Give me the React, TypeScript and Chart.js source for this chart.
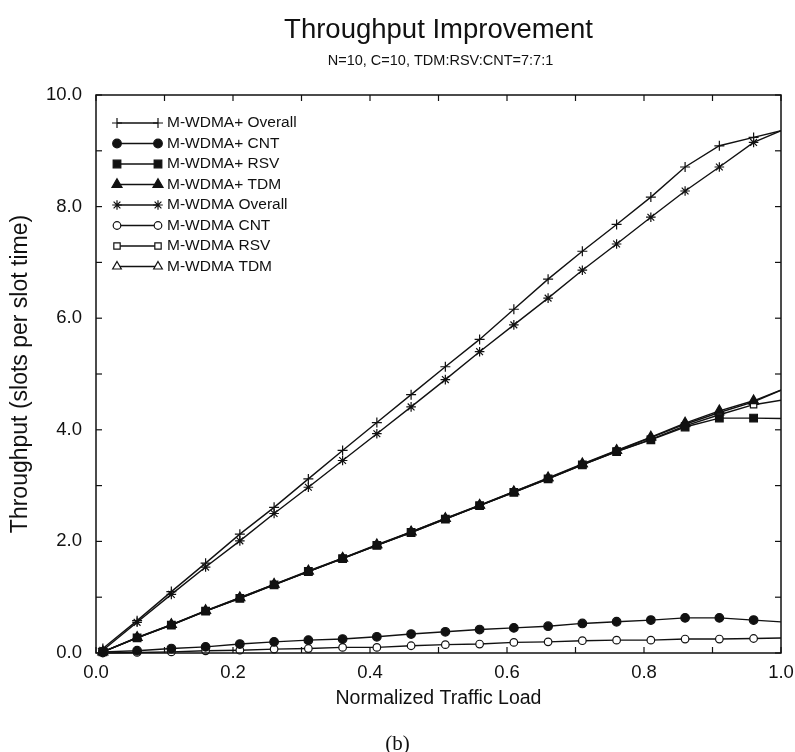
import React, { useEffect, useRef } from 'react';
import { Chart, registerables } from 'chart.js';
import { drawPoint } from 'chart.js/helpers';

Chart.register(...registerables);

const titleText = 'Throughput Improvement';
const subtitleText = 'N=10, C=10, TDM:RSV:CNT=7:7:1';
const captionText = '(b)';
const xAxisTitle = 'Normalized Traffic Load';
const yAxisTitle = 'Throughput (slots per slot time)';

const loads = [0.01, 0.06, 0.11, 0.16, 0.21, 0.26, 0.31, 0.36, 0.41, 0.46, 0.51, 0.56, 0.61, 0.66, 0.71, 0.76, 0.81, 0.86, 0.91, 0.96, 1.01];

const plusOverall = [0.08, 0.58, 1.10, 1.61, 2.13, 2.61, 3.12, 3.63, 4.13, 4.63, 5.13, 5.62, 6.16, 6.70, 7.20, 7.68, 8.17, 8.71, 9.09, 9.24, 9.39];
const plusCnt = [0.02, 0.04, 0.08, 0.11, 0.16, 0.20, 0.23, 0.25, 0.29, 0.34, 0.38, 0.42, 0.45, 0.48, 0.53, 0.56, 0.59, 0.63, 0.63, 0.59, 0.55];
const plusRsv = [0.02, 0.27, 0.50, 0.75, 0.98, 1.22, 1.46, 1.69, 1.93, 2.16, 2.40, 2.64, 2.88, 3.12, 3.37, 3.61, 3.82, 4.05, 4.21, 4.21, 4.20];
const plusTdm = [0.02, 0.28, 0.51, 0.76, 0.99, 1.23, 1.47, 1.70, 1.94, 2.17, 2.41, 2.65, 2.89, 3.14, 3.39, 3.63, 3.87, 4.12, 4.34, 4.52, 4.76];
const baseOverall = [0.05, 0.55, 1.05, 1.54, 2.01, 2.50, 2.97, 3.45, 3.93, 4.41, 4.90, 5.40, 5.88, 6.36, 6.86, 7.33, 7.81, 8.28, 8.71, 9.15, 9.41];
const baseCnt = [0.0, 0.01, 0.02, 0.04, 0.05, 0.07, 0.08, 0.10, 0.10, 0.13, 0.15, 0.16, 0.19, 0.20, 0.22, 0.23, 0.23, 0.25, 0.25, 0.26, 0.27];
const baseRsv = [0.02, 0.27, 0.50, 0.75, 0.98, 1.22, 1.46, 1.69, 1.93, 2.16, 2.40, 2.64, 2.88, 3.12, 3.37, 3.61, 3.83, 4.07, 4.27, 4.45, 4.55];
const baseTdm = [0.02, 0.27, 0.51, 0.75, 0.99, 1.23, 1.46, 1.70, 1.93, 2.17, 2.41, 2.64, 2.89, 3.13, 3.38, 3.62, 3.86, 4.10, 4.31, 4.50, 4.76];

const seriesLabels = ['M-WDMA+ Overall', 'M-WDMA+ CNT', 'M-WDMA+ RSV', 'M-WDMA+ TDM', 'M-WDMA Overall', 'M-WDMA CNT', 'M-WDMA RSV', 'M-WDMA TDM'];

const xMarkValues = [0, 0.1, 0.2, 0.3, 0.4, 0.5, 0.6, 0.7, 0.8, 0.9, 1.0];
const yMarkValues = [0, 1, 2, 3, 4, 5, 6, 7, 8, 9, 10];

const INK = '#111';
const SANS = '"Liberation Sans", Arial, Helvetica, sans-serif';
const SERIF = '"Liberation Serif", "Times New Roman", serif';

function makeSet(label: string, values: number[], pointStyle: string, filled: boolean, radius: number) {
  return {
    label,
    data: loads.map((x, i) => ({ x, y: values[i] })),
    borderColor: INK,
    borderWidth: 1.4,
    pointStyle,
    pointRadius: radius,
    pointBorderWidth: 1.2,
    pointBackgroundColor: filled ? INK : '#ffffff',
    pointBorderColor: INK,
    tension: 0,
    fill: false,
    clip: { left: 8, top: 8, right: 0, bottom: 8 },
  };
}

const decorPlugin = {
  id: 'decor',
  beforeDraw(chart: any) {
    const ctx = chart.ctx;
    ctx.save();
    ctx.fillStyle = '#ffffff';
    ctx.fillRect(0, 0, chart.width, chart.height);
    ctx.restore();
  },
  afterDraw(chart: any) {
    const { ctx, chartArea: a } = chart;
    const xs = chart.scales.x;
    const ys = chart.scales.y;
    const line = (x0: number, y0: number, x1: number, y1: number) => {
      ctx.beginPath();
      ctx.moveTo(x0, y0);
      ctx.lineTo(x1, y1);
      ctx.stroke();
    };
    ctx.save();
    ctx.strokeStyle = INK;
    ctx.lineWidth = 1.5;
    ctx.strokeRect(a.left, a.top, a.right - a.left, a.bottom - a.top);
    ctx.lineWidth = 1.2;
    const tl = 6;
    xMarkValues.forEach((v) => {
      const px = xs.getPixelForValue(v);
      line(px, a.bottom, px, a.bottom - tl);
      line(px, a.top, px, a.top + tl);
    });
    yMarkValues.forEach((v) => {
      const py = ys.getPixelForValue(v);
      line(a.left, py, a.left + tl, py);
      line(a.right, py, a.right - tl, py);
    });

    const cx = (a.left + a.right) / 2;
    ctx.fillStyle = INK;
    ctx.textAlign = 'center';
    ctx.textBaseline = 'alphabetic';
    ctx.font = `27.5px ${SANS}`;
    ctx.fillText(titleText, cx, 38);
    ctx.font = `14.5px ${SANS}`;
    ctx.fillText(subtitleText, cx + 2, 65);
    ctx.font = `21px ${SERIF}`;
    ctx.textBaseline = 'middle';
    ctx.fillText(captionText, chart.width / 2, 744);

    chart.data.datasets.forEach((ds: any, i: number) => {
      const yy = a.top + 28 + i * 20.5;
      const x0 = a.left + 21;
      const x1 = a.left + 62;
      ctx.strokeStyle = INK;
      ctx.lineWidth = 1.3;
      line(x0, yy, x1, yy);
      const opts = { pointStyle: ds.pointStyle, radius: ds.pointRadius, borderWidth: ds.pointBorderWidth, rotation: 0 };
      ctx.fillStyle = ds.pointBackgroundColor;
      ctx.strokeStyle = ds.pointBorderColor;
      ctx.lineWidth = ds.pointBorderWidth;
      drawPoint(ctx, opts as any, x0, yy);
      drawPoint(ctx, opts as any, x1, yy);
      ctx.fillStyle = INK;
      ctx.font = `15.5px ${SANS}`;
      ctx.textAlign = 'left';
      ctx.textBaseline = 'middle';
      ctx.fillText(ds.label, a.left + 71, yy);
    });
    ctx.restore();
  },
};

export default function App() {
  const ref = useRef<HTMLCanvasElement | null>(null);
  useEffect(() => {
    if (!ref.current) return;
    const datasets = [
      makeSet(seriesLabels[0], plusOverall, 'cross', false, 5),
      makeSet(seriesLabels[1], plusCnt, 'circle', true, 4.3),
      makeSet(seriesLabels[2], plusRsv, 'rect', true, 5.4),
      makeSet(seriesLabels[3], plusTdm, 'triangle', true, 5.8),
      makeSet(seriesLabels[4], baseOverall, 'star', false, 4.8),
      makeSet(seriesLabels[5], baseCnt, 'circle', false, 3.8),
      makeSet(seriesLabels[6], baseRsv, 'rect', false, 4.5),
      makeSet(seriesLabels[7], baseTdm, 'triangle', false, 5),
    ];
    const chart = new Chart(ref.current, {
      type: 'line',
      data: { datasets } as any,
      plugins: [decorPlugin],
      options: {
        animation: false,
        responsive: false,
        events: [],
        layout: { padding: { top: 95, right: 14, bottom: 40, left: 0 } },
        plugins: { legend: { display: false }, tooltip: { enabled: false }, title: { display: false } },
        scales: {
          x: {
            type: 'linear',
            min: 0,
            max: 1,
            grid: { display: false, drawTicks: false },
            border: { display: false },
            ticks: {
              stepSize: 0.1,
              autoSkip: false,
              maxRotation: 0,
              padding: 9,
              color: INK,
              font: { family: SANS, size: 18.5 },
              callback: (v: any) => (Math.round(Number(v) * 10) % 2 === 0 ? Number(v).toFixed(1) : ''),
            },
            title: {
              display: true,
              text: xAxisTitle,
              color: INK,
              font: { family: SANS, size: 19.5 },
              padding: { top: 0, bottom: 2 },
            },
            afterFit: (s: any) => {
              s.height = 59;
              s.paddingLeft = 0;
              s.paddingRight = 0;
            },
          },
          y: {
            type: 'linear',
            min: 0,
            max: 10,
            grid: { display: false, drawTicks: false },
            border: { display: false },
            ticks: {
              stepSize: 1,
              autoSkip: false,
              padding: 14,
              color: INK,
              font: { family: SANS, size: 18.5 },
              callback: (v: any) => (Math.round(Number(v)) % 2 === 0 ? Number(v).toFixed(1) : ''),
            },
            title: {
              display: true,
              text: yAxisTitle,
              color: INK,
              font: { family: SANS, size: 23 },
              padding: { top: 7, bottom: 0 },
            },
            afterFit: (s: any) => {
              s.width = 96;
              s.paddingTop = 0;
              s.paddingBottom = 0;
            },
          },
        },
      } as any,
    });
    return () => chart.destroy();
  }, []);
  return (
    <div style={{ position: 'fixed', left: 0, top: 0, width: 795, height: 752, background: '#fff' }}>
      <canvas ref={ref} width={795} height={752} style={{ display: 'block', width: 795, height: 752 }} />
    </div>
  );
}
